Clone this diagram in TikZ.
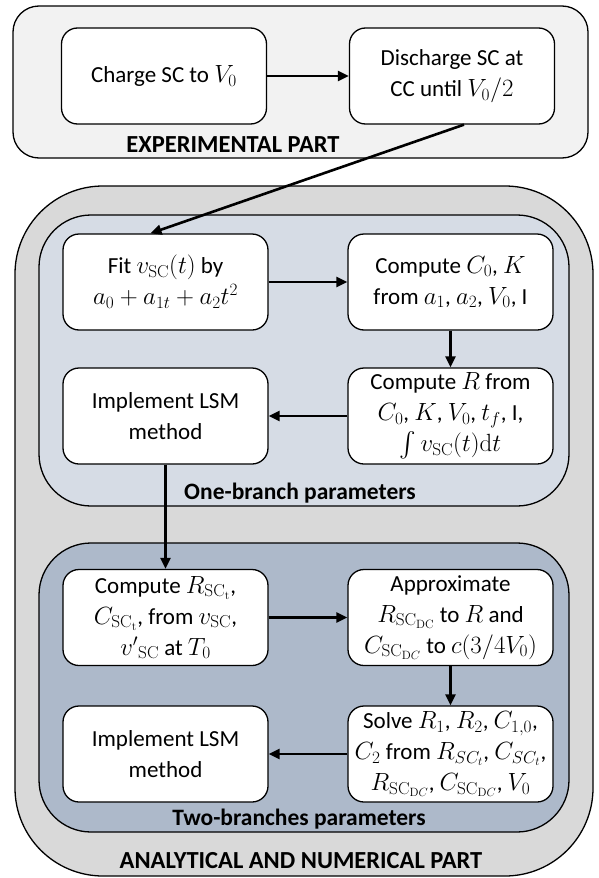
\documentclass[tikz,border=0pt]{standalone}
\usepackage[no-math]{fontspec}
\usepackage{exscale}
\setmainfont{Carlito}
\usetikzlibrary{arrows.meta}
\definecolor{expfill}{HTML}{F2F2F2}
\definecolor{anafill}{HTML}{D9D9D9}
\definecolor{onefill}{HTML}{D6DCE5}
\definecolor{twofill}{HTML}{ADB9CA}
\begin{document}
\begin{tikzpicture}[x=1pt,y=-1pt,
  stepbox/.style={draw, line width=1.3pt, fill=white, rounded corners=16pt,
    minimum width=205pt, minimum height=96pt, align=center, inner sep=1pt,
    font=\fontsize{23}{31}\selectfont},
  arr/.style={line width=2.6pt, -{Triangle[length=11pt,width=10pt]}},
  region/.style={draw, line width=1.3pt},
  lbl/.style={font=\fontsize{23.5}{28}\selectfont\bfseries},
  caplbl/.style={font=\fontsize{24.5}{28}\selectfont\bfseries}]
\useasboundingbox (0,0) rectangle (598,878);

% regions
\draw[region, fill=expfill, rounded corners=26pt] (13,6) rectangle (588,158);
\draw[region, fill=anafill, rounded corners=88pt] (15,186) rectangle (593,876);
\draw[region, fill=onefill, rounded corners=52pt] (39,215) rectangle (569,506);
\draw[region, fill=twofill, rounded corners=52pt] (39,543) rectangle (569,832);

% labels
\node[caplbl] (lexp) at (233,145) {EXPERIMENTAL PART};
\node[lbl] (lone) at (300,493) {One-branch parameters};
\node[lbl] (ltwo) at (299,819) {Two-branches parameters};
\node[caplbl] (lana) at (301,861) {ANALYTICAL AND NUMERICAL PART};

% experimental boxes
\node[stepbox] (chg) at (164,76) {Charge SC to $V_0$};
\node[stepbox] (dis) at (452,76) {Discharge SC at\\CC until $V_0/2$};

% one-branch boxes
\node[stepbox] (fit) at (165.5,282) {Fit $v_{\mathrm{SC}}(t)$ by\\$a_0+a_{1t}+a_2t^2$};
\node[stepbox] (cck) at (450.5,282) {Compute $C_0$, $K$\\from $a_1$, $a_2$, $V_0$, I};
\node[stepbox] (cr) at (450.5,416) {Compute $R$ from\\$C_0$, $K$, $V_0$, $t_f$, I,\\$\int v_{\mathrm{SC}}(t)\mathrm{d}t$};
\node[stepbox] (lsm1) at (165.5,416) {Implement LSM\\method};

% two-branch boxes
\node[stepbox] (crsc) at (165.5,617.5) {Compute $R_{\mathrm{SC_t}}$,\\$C_{\mathrm{SC_t}}$, from $v_{\mathrm{SC}}$,\\${v'}_{\mathrm{SC}}$ at $T_0$};
\node[stepbox] (appr) at (450.5,617.5) {Approximate\\$R_{\mathrm{SC}_{\mathrm{DC}}}$ to $R$ and\\$C_{\mathrm{SC}_{\mathrm{D}C}}$ to $c(3/4V_0)$};
\node[stepbox] (solv) at (450.5,754) {Solve $R_1$, $R_2$, $C_{1,0}$,\\$C_2$ from $R_{SC_t}$, $C_{SC_t}$,\\$R_{\mathrm{SC}_{\mathrm{D}C}}$, $C_{\mathrm{SC}_{\mathrm{D}C}}$, $V_0$};
\node[stepbox] (lsm2) at (165.5,754) {Implement LSM\\method};

% connectors
\draw[arr] (chg) -- (dis);
\draw[arr] ([xshift=12pt]dis.south) -- ([xshift=-15pt]fit.north);
\draw[arr] (fit) -- (cck);
\draw[arr] (cck) -- (cr);
\draw[arr] (cr) -- (lsm1);
\draw[arr] (lsm1) -- (crsc);
\draw[arr] (crsc) -- (appr);
\draw[arr] (appr) -- (solv);
\draw[arr] (solv) -- (lsm2);
\end{tikzpicture}
\end{document}
